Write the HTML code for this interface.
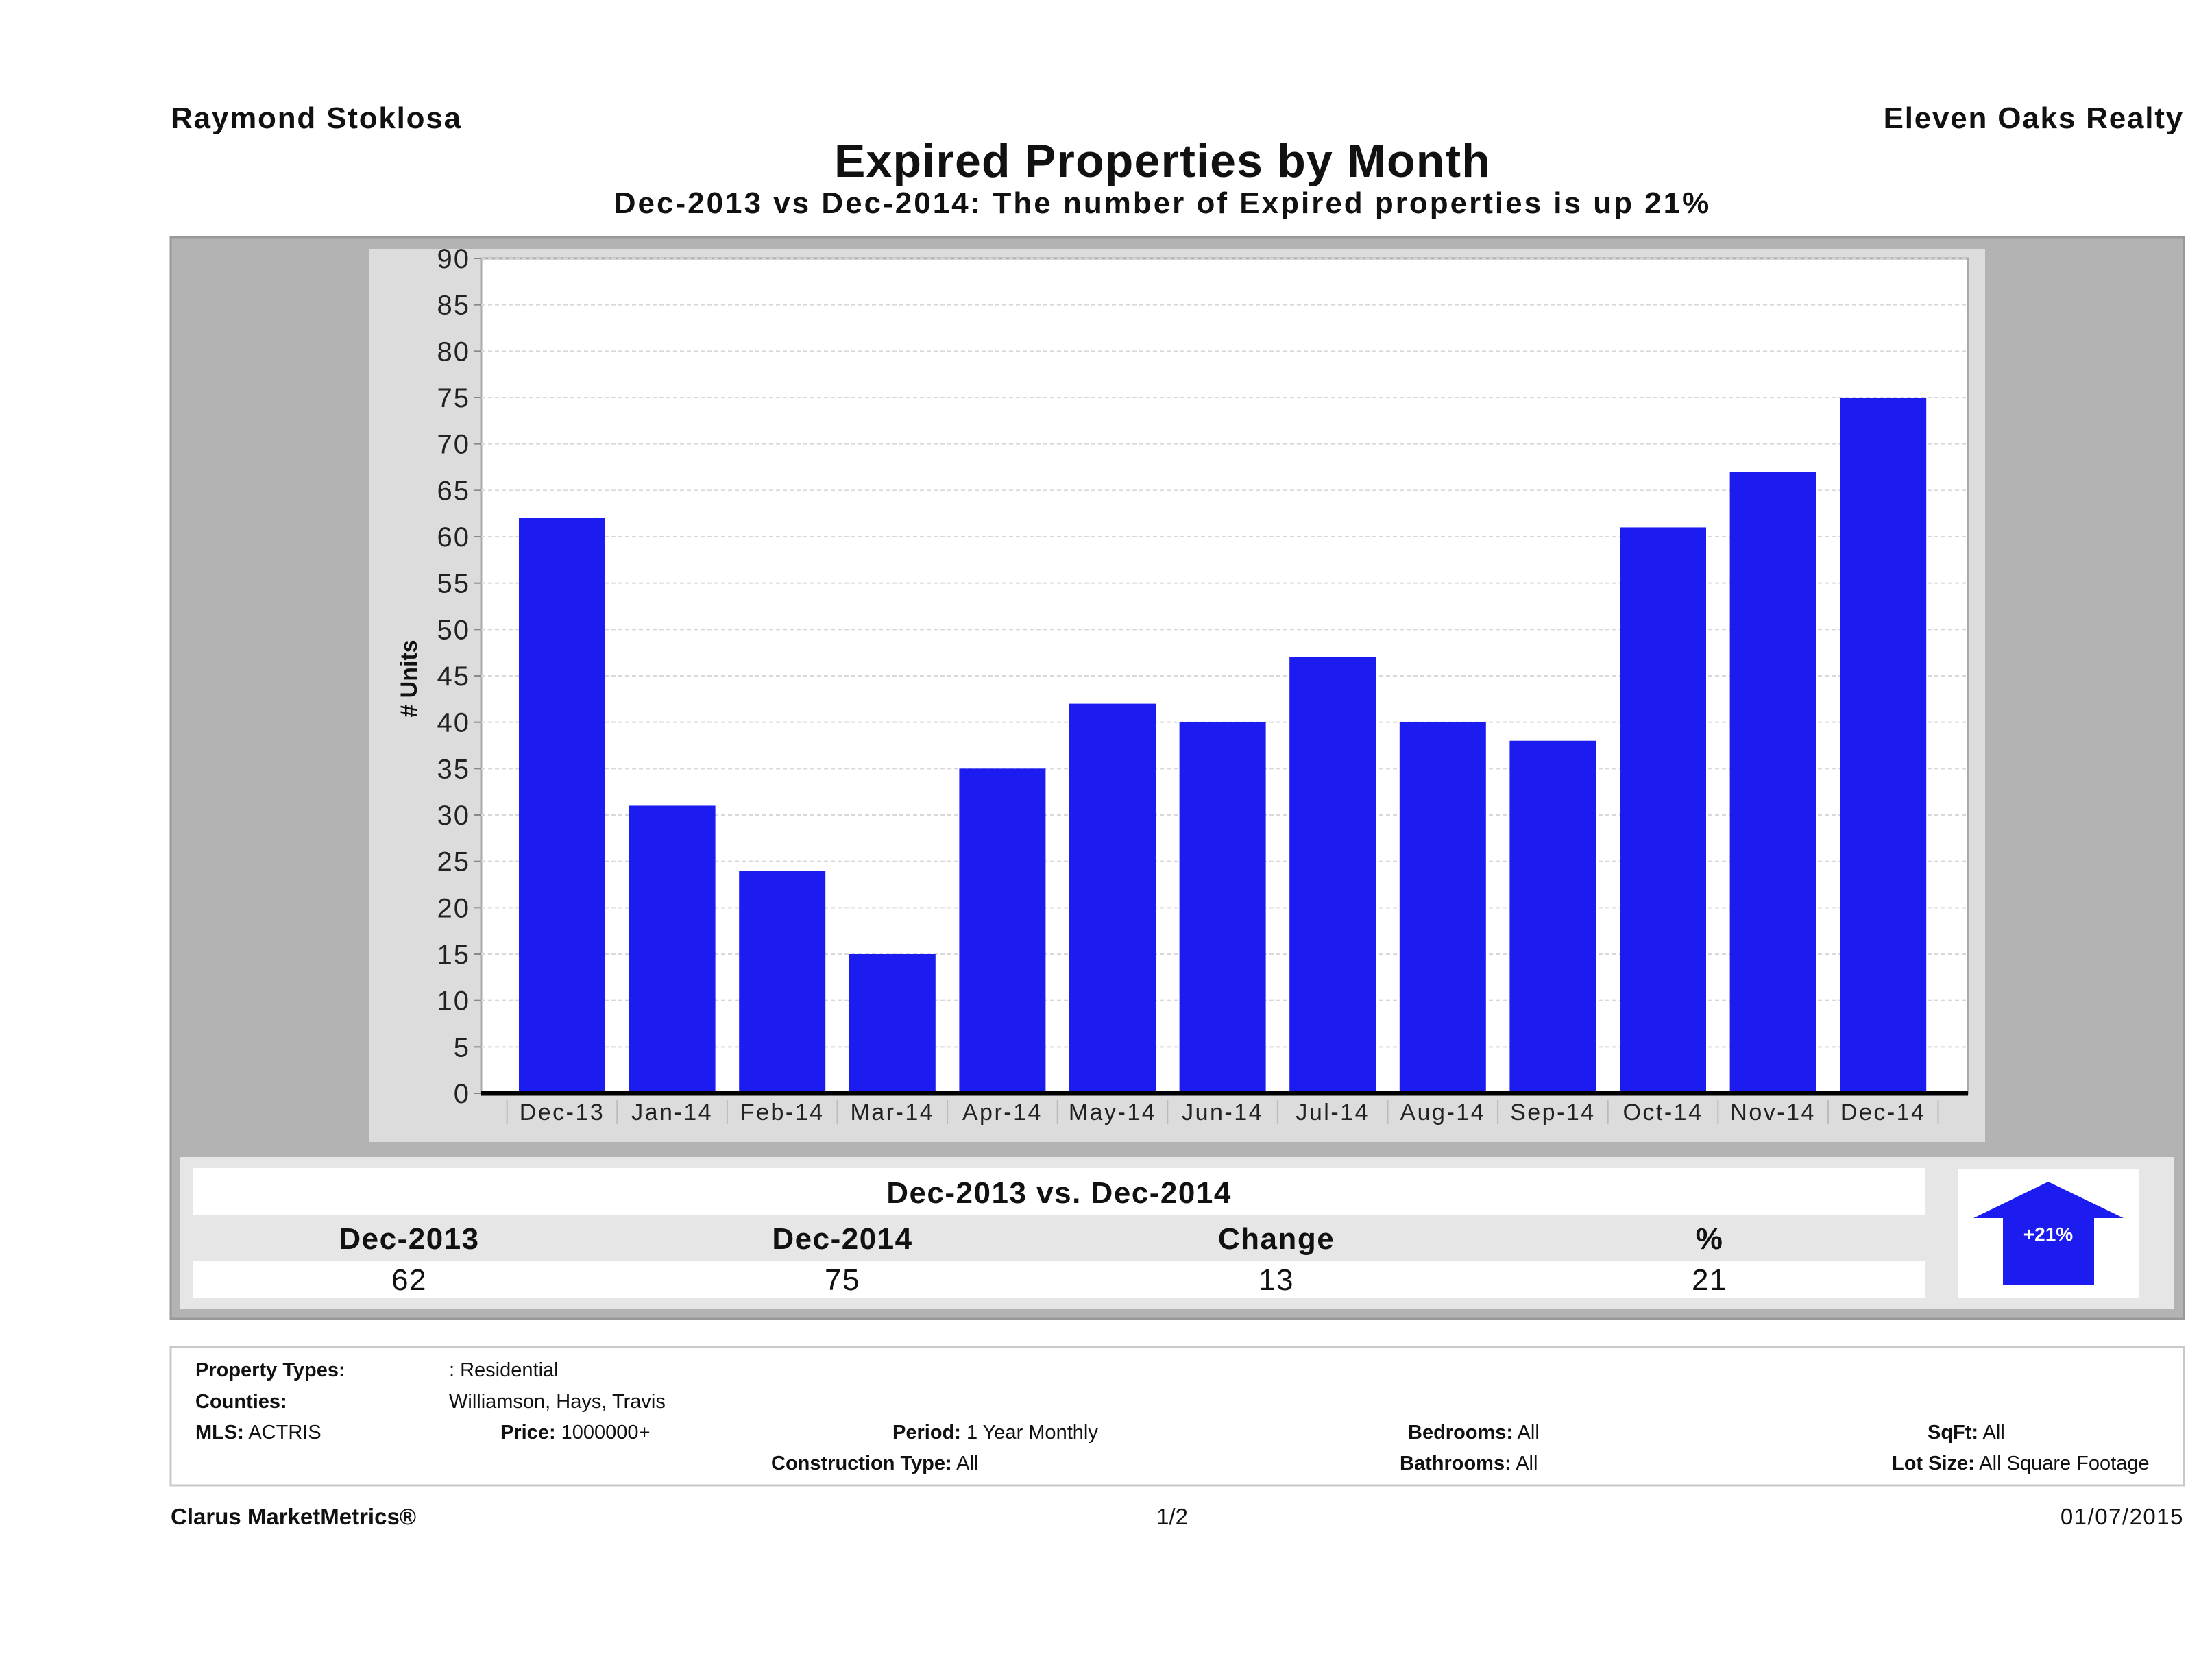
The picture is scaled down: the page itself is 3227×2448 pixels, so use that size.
<!DOCTYPE html>
<html><head><meta charset="utf-8"><style>
html,body{margin:0;padding:0;background:#fff;}
svg{display:block;font-family:"Liberation Sans","DejaVu Sans",sans-serif;}
</style></head><body>
<svg id="root" width="3227" height="2448" viewBox="0 0 3227 2448" xmlns="http://www.w3.org/2000/svg">
<rect width="3227" height="2448" fill="#fff"/>
<text x="249" y="187" font-size="44" font-weight="bold" fill="#111" letter-spacing="1.8">Raymond Stoklosa</text>
<text x="3186" y="187" font-size="44" font-weight="bold" fill="#111" text-anchor="end" letter-spacing="1.8">Eleven Oaks Realty</text>
<text x="1696" y="258" font-size="68" font-weight="bold" fill="#111" text-anchor="middle" letter-spacing="1.2">Expired Properties by Month</text>
<text x="1696" y="311" font-size="44" font-weight="bold" fill="#111" text-anchor="middle" letter-spacing="3">Dec-2013 vs Dec-2014: The number of Expired   properties is up 21%</text>

<rect x="249" y="346" width="2937" height="1578" fill="#b3b3b3" stroke="#999" stroke-width="3"/>
<rect x="538" y="363" width="2358" height="1303" fill="#dcdcdc"/>
<rect x="702" y="377" width="2169" height="1218" fill="#fff" stroke="#aaa" stroke-width="3"/>
<g id="grid"></g>
<g id="bars"></g>
<g id="yticks"></g>
<g id="xticks"></g>
<text transform="translate(608,990) rotate(-90)" font-size="34" font-weight="bold" fill="#111" text-anchor="middle"># Units</text>

<rect x="263" y="1688" width="2908" height="222" fill="#e6e6e6"/>
<rect x="282" y="1704" width="2527" height="68" fill="#fff"/>
<text x="1545" y="1755" font-size="44" font-weight="bold" fill="#111" text-anchor="middle" letter-spacing="1.5">Dec-2013 vs. Dec-2014</text>
<rect x="282" y="1840" width="2527" height="53" fill="#fff"/>
<g font-size="44" fill="#111" text-anchor="middle" letter-spacing="1.5">
<text x="597" y="1822" font-weight="bold">Dec-2013</text>
<text x="1229" y="1822" font-weight="bold">Dec-2014</text>
<text x="1862" y="1822" font-weight="bold">Change</text>
<text x="2494" y="1822" font-weight="bold">%</text>
<text x="597" y="1882">62</text>
<text x="1229" y="1882">75</text>
<text x="1862" y="1882">13</text>
<text x="2494" y="1882">21</text>
</g>
<rect x="2856" y="1705" width="265" height="188" fill="#fff"/>
<polygon points="2988,1724 3098,1777 3055,1777 3055,1874 2922,1874 2922,1777 2879,1777" fill="#1c1cf0"/>
<text x="2988" y="1810" font-size="28" font-weight="bold" fill="#fff" text-anchor="middle">+21%</text>

<rect x="249" y="1965" width="2937" height="202" fill="#fff" stroke="#c8c8c8" stroke-width="3"/>
<g font-size="29" fill="#111">
<text x="285" y="2008" font-weight="bold">Property Types:</text>
<text x="655" y="2008">: Residential</text>
<text x="285" y="2054" font-weight="bold">Counties:</text>
<text x="655" y="2054">Williamson, Hays, Travis</text>
<text x="285" y="2099"><tspan font-weight="bold">MLS:</tspan>  ACTRIS</text>
<text x="730" y="2099"><tspan font-weight="bold">Price:</tspan> 1000000+</text>
<text x="1302" y="2099"><tspan font-weight="bold">Period:</tspan> 1 Year Monthly</text>
<text x="2054" y="2099"><tspan font-weight="bold">Bedrooms:</tspan> All</text>
<text x="2812" y="2099"><tspan font-weight="bold">SqFt:</tspan>  All</text>
<text x="1125" y="2144"><tspan font-weight="bold">Construction Type:</tspan> All</text>
<text x="2042" y="2144"><tspan font-weight="bold">Bathrooms:</tspan> All</text>
<text x="2760" y="2144"><tspan font-weight="bold">Lot Size:</tspan>  All Square Footage</text>
</g>
<text x="249" y="2224" font-size="33" font-weight="bold" fill="#111">Clarus MarketMetrics®</text>
<text x="1710" y="2224" font-size="33" fill="#111" text-anchor="middle">1/2</text>
<text x="3186" y="2224" font-size="33" fill="#111" text-anchor="end" letter-spacing="1.5">01/07/2015</text>
</svg>
<script>
const categories = ["Dec-13","Jan-14","Feb-14","Mar-14","Apr-14","May-14","Jun-14","Jul-14","Aug-14","Sep-14","Oct-14","Nov-14","Dec-14"];
const values = [62,31,24,15,35,42,40,47,40,38,61,67,75];
const yTicks = [0,5,10,15,20,25,30,35,40,45,50,55,60,65,70,75,80,85,90];

const NS = "http://www.w3.org/2000/svg";
const plotL = 702, plotR = 2871, y0 = 1595, yTop = 377, yMax = 90;
const firstC = 820, pitch = 160.6, barW = 126;
function yScale(v){ return y0 - (v / yMax) * (y0 - yTop); }
function xScale(i){ return firstC + i * pitch; }
function mk(tag, attrs){ const e = document.createElementNS(NS, tag); for (const k in attrs) e.setAttribute(k, attrs[k]); return e; }

const grid = document.getElementById('grid');
const yt = document.getElementById('yticks');
yTicks.forEach(function(t){
  const y = yScale(t);
  if (t > 0) {
    const g = mk('line', {x1: plotL, x2: plotR, y1: y, y2: y, stroke: '#d8d8d8', 'stroke-width': 2, 'stroke-dasharray': '6,4'});
    
    
    grid.appendChild(g);
  }
  const tk = mk('line', {x1: plotL - 10, x2: plotL, y1: y, y2: y, stroke: '#888', 'stroke-width': 2});
  
  
  yt.appendChild(tk);
  const tx = mk('text', {x: plotL - 16, y: y + 14, 'font-size': 40, fill: '#222', 'text-anchor': 'end', 'letter-spacing': '2'});
  tx.textContent = t;
  
  
  yt.appendChild(tx);
});

const bars = document.getElementById('bars');
const xt = document.getElementById('xticks');
categories.forEach(function(c, i){
  const cx = xScale(i);
  const r = mk('rect', {x: cx - barW/2, y: yScale(values[i]), width: barW, height: y0 - yScale(values[i]), fill: '#1c1cf0'});
  
  
  bars.appendChild(r);
  const tx = mk('text', {x: cx, y: 1634, 'font-size': 34, fill: '#222', 'text-anchor': 'middle', 'letter-spacing': '2.5'});
  tx.textContent = c;
  
  
  xt.appendChild(tx);
  const sep = mk('line', {x1: cx - pitch/2, x2: cx - pitch/2, y1: 1605, y2: 1640, stroke: '#bbb', 'stroke-width': 2});
  
  
  xt.appendChild(sep);
});
const lastSep = mk('line', {x1: xScale(categories.length - 1) + pitch/2, x2: xScale(categories.length - 1) + pitch/2, y1: 1605, y2: 1640, stroke: '#bbb', 'stroke-width': 2});


xt.appendChild(lastSep);
const base = mk('line', {x1: plotL, x2: plotR, y1: y0, y2: y0, stroke: '#000', 'stroke-width': 7});


xt.appendChild(base);
</script>
</body></html>
